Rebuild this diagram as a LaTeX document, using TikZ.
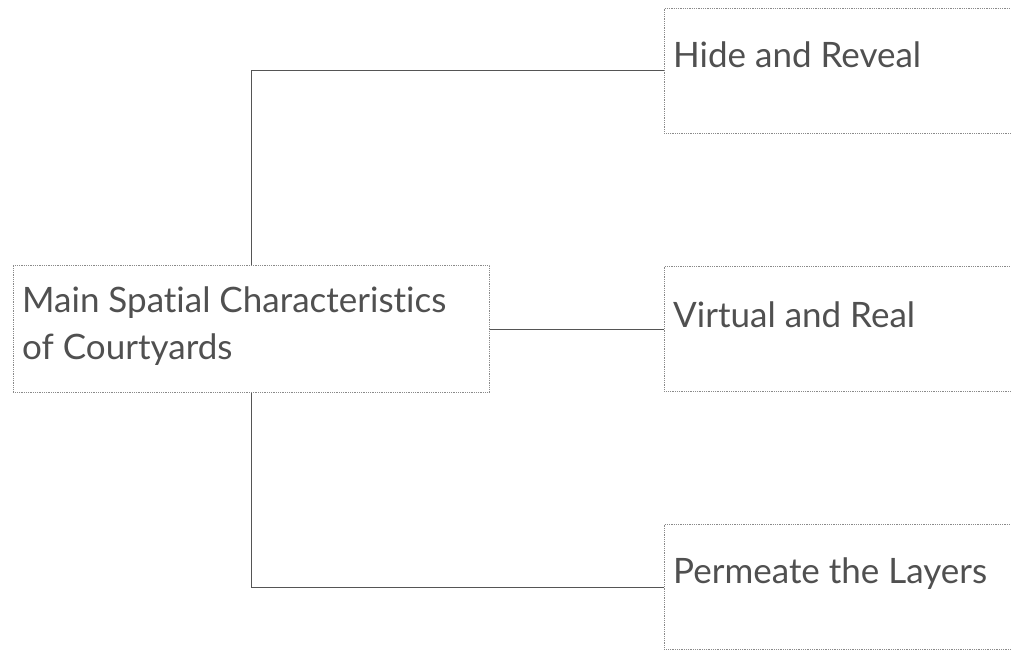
\documentclass[tikz,border=0pt]{standalone}
\usepackage{fontspec}
\setmainfont{Lato}[Ligatures={NoCommon}]
\definecolor{txt}{HTML}{505050}
\definecolor{edge}{HTML}{8A8A8A}
\definecolor{wire}{HTML}{555555}
\begin{document}
\begin{tikzpicture}[x=1pt,y=-1pt,
  box/.style={draw=edge, line width=0.9pt, dash pattern=on 0.9pt off 0.9pt,
    rectangle, inner sep=0pt, anchor=north west},
  label/.style={anchor=base west, inner sep=0pt, text=txt,
    font=\fontsize{35}{48}\selectfont},
  wire/.style={draw=wire, line width=0.9pt}]
\useasboundingbox (0,0) rectangle (1011,652);
\clip (0,0) rectangle (1011,652);

% main topic box
\node[box, minimum width=476pt, minimum height=127pt] (main) at (13,265) {};
\node[label] (mainA) at (22,312) {Main Spatial Characteristics};
\node[label] (mainB) at (22,359) {of Courtyards};

% branch boxes (run past the right edge)
\node[box, minimum width=400pt, minimum height=125pt] (hide) at (664,8) {};
\node[box, minimum width=400pt, minimum height=125pt] (virt) at (664,266) {};
\node[box, minimum width=400pt, minimum height=125pt] (perm) at (664,524) {};

\node[label] (hideT) at (673,68) {Hide and Reveal};
\node[label] (virtT) at (673,327) {Virtual and Real};
\node[label] (permT) at (673,583) {Permeate the Layers};

% connectors
\draw[wire] (main.north) |- (hide.west);
\draw[wire] (main.east) -- (virt.west);
\draw[wire] (main.south) |- (perm.west);
\end{tikzpicture}
\end{document}
